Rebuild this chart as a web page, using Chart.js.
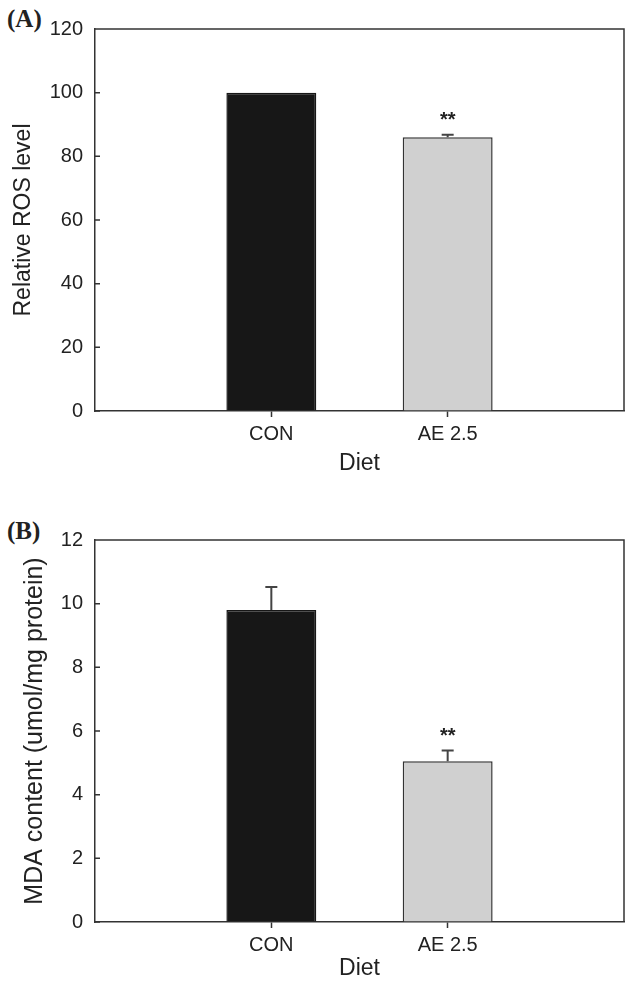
<!DOCTYPE html>
<html lang="en">
<head>
<meta charset="UTF-8">
<title>ROS level and MDA content</title>
<script src="https://cdn.jsdelivr.net/npm/chart.js"></script>
<style>
  body { margin: 0; background: #fff; width: 625px; height: 983px; position: relative; overflow: hidden; }
  canvas { position: absolute; left: 0; }
  .tag { position: absolute; left: 7px; font: bold 25px "Liberation Serif", "Times New Roman", serif; line-height: 1; color: #222; }
</style>
</head>
<body>
<div class="tag" style="top:6px">(A)</div>
<canvas id="chartA" width="625" height="490" style="top:0"></canvas>
<div class="tag" style="top:518px">(B)</div>
<canvas id="chartB" width="625" height="493" style="top:490px"></canvas>

<script>
// data
const categories = ['CON', 'AE 2.5'];
const catPos = [1, 2];
const barColors = ['#171717', '#d0d0d0'];

const rosMean = [100, 86];
const rosErr = [0, 0.8];
const rosMarks = ['', '**'];

const mdaMean = [9.8, 5.05];
const mdaErr = [0.72, 0.34];
const mdaMarks = ['', '**'];

const FONT = '"Liberation Sans", Arial, sans-serif';
const INK = '#222';

// frame, inward y ticks, error bars and significance stars
const extras = {
  id: 'extras',
  afterDatasetsDraw(chart, args, opts) {
    const { ctx, chartArea: a, scales: { x, y } } = chart;
    ctx.save();
    ctx.strokeStyle = '#333';
    ctx.lineWidth = 1.5;
    ctx.beginPath();
    ctx.moveTo(a.left, a.top);
    ctx.lineTo(a.right, a.top);
    ctx.lineTo(a.right, a.bottom);
    y.ticks.forEach(t => {
      const py = y.getPixelForValue(t.value);
      ctx.moveTo(a.left, py);
      ctx.lineTo(a.left + 5, py);
    });
    ctx.stroke();

    opts.means.forEach((m, i) => {
      const px = x.getPixelForValue(catPos[i]);
      const base = y.getPixelForValue(m);
      const top = y.getPixelForValue(m + opts.errs[i]);
      if (opts.errs[i] > 0) {
        ctx.strokeStyle = '#444';
        ctx.lineWidth = 2;
        ctx.beginPath();
        ctx.moveTo(px, base);
        ctx.lineTo(px, top);
        ctx.moveTo(px - 6, top);
        ctx.lineTo(px + 6, top);
        ctx.stroke();
      }
      if (opts.marks[i]) {
        ctx.fillStyle = INK;
        ctx.font = 'bold 20px ' + FONT;
        ctx.textAlign = 'center';
        ctx.textBaseline = 'middle';
        ctx.fillText(opts.marks[i], px, top - 14);
      }
    });
    ctx.restore();
  }
};

function makeChart(id, means, errs, marks, yMax, yStep, yTitle, yTitleSize, pad, xH, titlePad, dietPad) {
  return new Chart(document.getElementById(id), {
    type: 'bar',
    data: {
      datasets: [{
        data: catPos.map((p, i) => ({ x: p, y: means[i] })),
        backgroundColor: barColors,
        borderColor: ['#171717', '#333'],
        borderWidth: 1.5,
        categoryPercentage: 1,
        barPercentage: 0.51
      }]
    },
    options: {
      responsive: false,
      devicePixelRatio: 1,
      animation: false,
      layout: { padding: pad },
      plugins: {
        legend: { display: false },
        tooltip: { enabled: false },
        extras: { means: means, errs: errs, marks: marks }
      },
      scales: {
        x: {
          type: 'linear',
          min: 0,
          max: 3,
          offset: false,
          afterBuildTicks: s => { s.ticks = catPos.map(v => ({ value: v })); },
          afterFit: s => { s.height = xH; },
          ticks: {
            callback: v => categories[catPos.indexOf(v)] ?? '',
            color: INK,
            font: { family: FONT, size: 20 },
            padding: 5,
            maxRotation: 0
          },
          grid: { offset: false, drawOnChartArea: false, drawTicks: true, tickLength: 6, tickColor: '#333', tickWidth: 1.5 },
          border: { display: true, color: '#333', width: 1.5 },
          title: { display: true, text: 'Diet', color: INK, font: { family: FONT, size: 23 }, padding: dietPad }
        },
        y: {
          min: 0,
          max: yMax,
          afterFit: s => { s.width = 95; },
          ticks: { stepSize: yStep, color: INK, font: { family: FONT, size: 20 }, padding: 12 },
          grid: { drawOnChartArea: false, drawTicks: false },
          border: { display: true, color: '#333', width: 1.5 },
          title: { display: true, text: yTitle, color: INK, font: { family: FONT, size: yTitleSize }, padding: titlePad }
        }
      }
    },
    plugins: [extras]
  });
}

makeChart('chartA', rosMean, rosErr, rosMarks, 120, 20, 'Relative ROS level', 23,
  { top: 29, right: 1, bottom: 0, left: 0 }, 79, { top: 10, bottom: 0 }, 13);
makeChart('chartB', mdaMean, mdaErr, mdaMarks, 12, 2, 'MDA content (umol/mg protein)', 25,
  { top: 50, right: 1, bottom: 0, left: 0 }, 61, { top: 20, bottom: 0 }, 1);
</script>
</body>
</html>
